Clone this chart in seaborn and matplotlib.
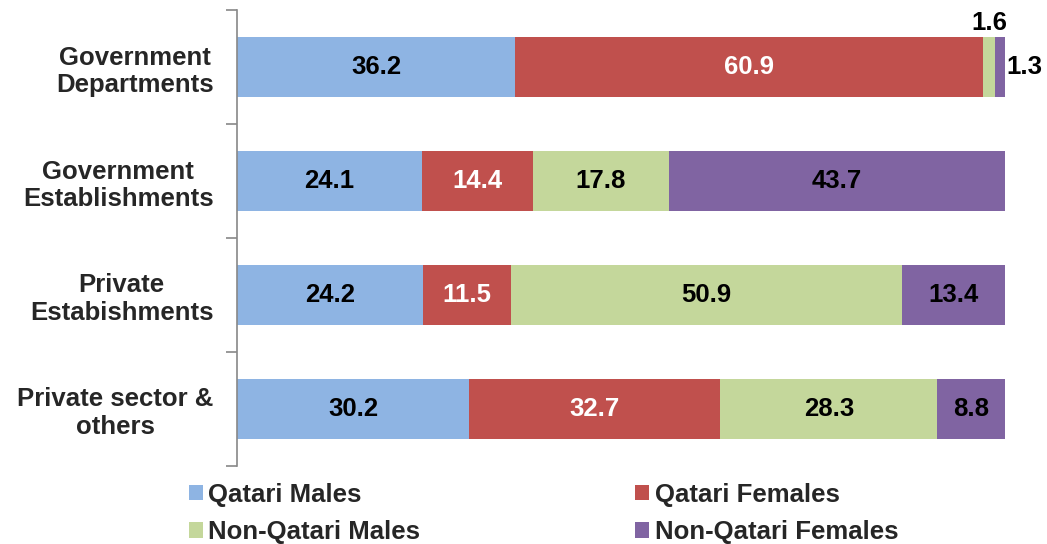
import numpy as np
import pandas as pd
import seaborn as sns
import matplotlib.pyplot as plt
from matplotlib.patches import Patch
from matplotlib.ticker import FixedLocator, NullLocator

# 数据
categories = ['Government\nDepartments', 'Government\nEstablishments',
              'Private\nEstabishments', 'Private sector &\nothers']
groups = ['Qatari Males', 'Qatari Females', 'Non-Qatari Males', 'Non-Qatari Females']
qatari_males = [36.2, 24.1, 24.2, 30.2]
qatari_females = [60.9, 14.4, 11.5, 32.7]
non_qatari_males = [1.6, 17.8, 50.9, 28.3]
non_qatari_females = [1.3, 43.7, 13.4, 8.8]

colors = ['#8EB4E3', '#C0504D', '#C4D79B', '#8064A2']
label_colors = ['black', 'white', 'black', 'black']
FS = 18.5

sns.set_style('white')
plt.rcParams['font.family'] = ['Liberation Sans', 'DejaVu Sans']
plt.rcParams['font.weight'] = 'bold'

series = [qatari_males, qatari_females, non_qatari_males, non_qatari_females]
df = pd.DataFrame({g: v for g, v in zip(groups, series)}, index=categories)
cum = df.cumsum(axis=1)

fig = plt.figure(figsize=(10.47, 5.44), dpi=100)
ax = fig.add_axes([0.2264, 0.1434, 0.7335, 0.8382])

# 累积堆叠：从最外层开始画
for g, c in reversed(list(zip(groups, colors))):
    sns.barplot(x=cum[g].values, y=categories, color=c, saturation=1,
                width=0.52, linewidth=0, orient='h', ax=ax)

ax.set_xlim(0, 100)
ax.set_ylim(3.5, -0.5)
ax.set_xlabel('')
ax.set_ylabel('')
ax.xaxis.set_major_locator(NullLocator())
for s in ['top', 'right', 'bottom']:
    ax.spines[s].set_visible(False)
ax.spines['left'].set_color('#888888')
ax.spines['left'].set_linewidth(1.2)

ax.yaxis.set_minor_locator(FixedLocator(np.arange(-0.5, 4, 1)))
ax.tick_params(axis='y', which='major', length=0, pad=17)
ax.tick_params(axis='y', which='minor', length=8, width=1.2, color='#888888', left=True)
for t in ax.get_yticklabels():
    t.set_fontsize(FS)
    t.set_fontweight('bold')
    t.set_multialignment('center')

# 数据标签
for i, cat in enumerate(categories):
    left = 0
    for j, g in enumerate(groups):
        v = df.loc[cat, g]
        cx = left + v / 2
        if v < 5:
            if j == 2:
                ax.text(cx, i - 0.28, f'{v:.1f}', ha='center', va='bottom',
                        fontsize=FS, fontweight='bold', color='black', clip_on=False)
            else:
                ax.text(left + v + 0.2, i, f'{v:.1f}', ha='left', va='center',
                        fontsize=FS, fontweight='bold', color='black', clip_on=False)
        else:
            ax.text(cx, i, f'{v:.1f}', ha='center', va='center',
                    fontsize=FS, fontweight='bold', color=label_colors[j])
        left += v

# 图例按行排列（列优先填充，所以重排）
order = [0, 2, 1, 3]
handles = [Patch(facecolor=colors[k], edgecolor='none') for k in order]
labels = [groups[k] for k in order]
fig.legend(handles, labels, loc='upper left', bbox_to_anchor=(0.1633, 0.146),
           ncol=2, frameon=False, prop={'size': FS, 'weight': 'bold'},
           handlelength=0.55, handleheight=0.55, handletextpad=0.2,
           columnspacing=8.37, labelspacing=0.53, borderpad=0.2)

plt.savefig('out.png', dpi=100)
